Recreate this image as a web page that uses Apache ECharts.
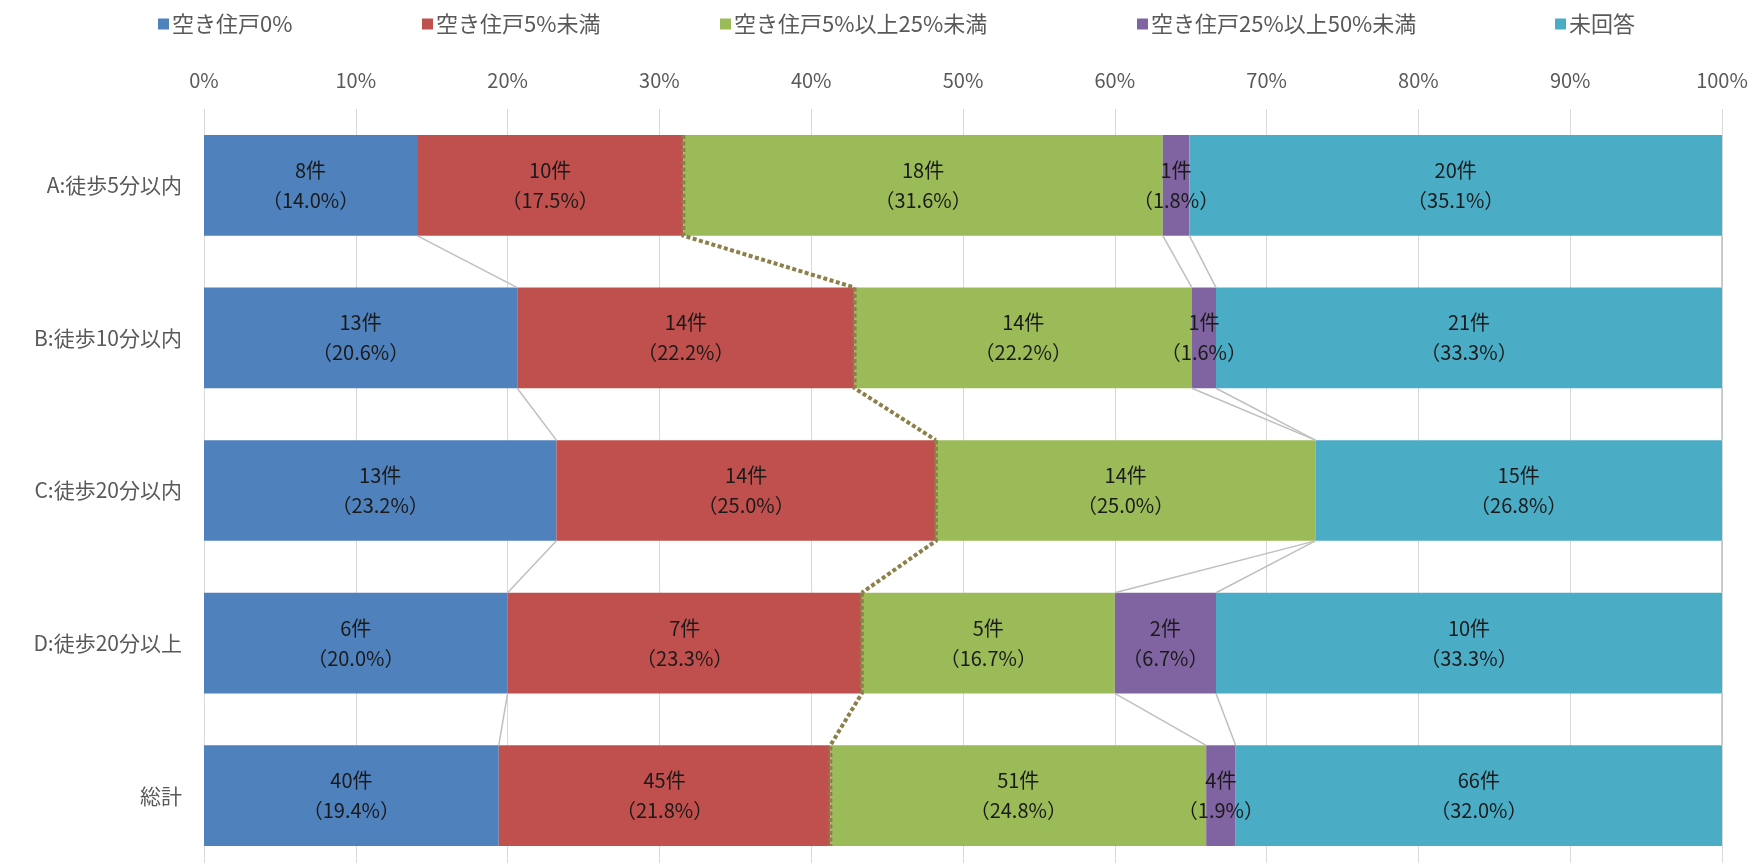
<!DOCTYPE html>
<html>
<head>
<meta charset="utf-8">
<script src="https://cdn.jsdelivr.net/npm/echarts@6/dist/echarts.min.js"></script>
<style>
  html, body { margin: 0; padding: 0; background: #ffffff; }
  #chart { width: 1753px; height: 863px; }
</style>
</head>
<body>
<div id="chart"></div>
<script>
// ---- data ----
const categories = ['A:徒歩5分以内', 'B:徒歩10分以内', 'C:徒歩20分以内', 'D:徒歩20分以上', '総計'];
const seriesNames = ['空き住戸0%', '空き住戸5%未満', '空き住戸5%以上25%未満', '空き住戸25%以上50%未満', '未回答'];

const counts0  = [8, 13, 13, 6, 40];
const counts5  = [10, 14, 14, 7, 45];
const counts25 = [18, 14, 14, 5, 51];
const counts50 = [1, 1, 0, 2, 4];
const countsNA = [20, 21, 15, 10, 66];

const pct0  = [14.0, 20.6, 23.2, 20.0, 19.4];
const pct5  = [17.5, 22.2, 25.0, 23.3, 21.8];
const pct25 = [31.6, 22.2, 25.0, 16.7, 24.8];
const pct50 = [1.8, 1.6, 0.0, 6.7, 1.9];
const pctNA = [35.1, 33.3, 26.8, 33.3, 32.0];

const xMin = 0, xMax = 100, xInterval = 10;

// ---- styles ----
const colors = ['#4F81BD', '#C0504D', '#9BBB59', '#8064A2', '#4BACC6'];
const FONT = '"Noto Sans CJK JP", "Noto Sans", sans-serif';
const BAR_RATIO = 0.66;

const countSets = [counts0, counts5, counts25, counts50, countsNA];
const pctSets = [pct0, pct5, pct25, pct50, pctNA];
const totals = categories.map((_, i) => countSets.reduce((s, arr) => s + arr[i], 0));
const shares = countSets.map(arr => arr.map((v, i) => v / totals[i] * 100));
// cumulative end of each segment
const cum = shares.map((_, k) => categories.map((_, i) => {
  let s = 0; for (let j = 0; j <= k; j++) s += shares[j][i]; return s;
}));

const barSeries = seriesNames.map((name, k) => ({
  name: name,
  type: 'bar',
  stack: 'total',
  barWidth: (BAR_RATIO * 100) + '%',
  itemStyle: { color: colors[k] },
  z: 2,
  label: {
    show: true,
    position: 'inside',
    fontFamily: FONT,
    fontSize: 20,
    lineHeight: 30,
    color: '#1a1a1a',
    formatter: function (p) {
      const c = countSets[k][p.dataIndex];
      if (!c) return '';
      return c + '件\n（' + pctSets[k][p.dataIndex].toFixed(1) + '%）';
    }
  },
  data: shares[k]
}));

const linkData = [];
for (let i = 0; i < categories.length - 1; i++) linkData.push([0, i]);

const linkSeries = {
  type: 'custom',
  name: 'serieslines',
  coordinateSystem: 'cartesian2d',
  z: 5,
  silent: true,
  encode: { x: 0, y: 1 },
  data: linkData,
  renderItem: function (params, api) {
    const i = params.dataIndex;
    const band = api.size([0, 1])[1];
    const half = band * BAR_RATIO / 2;
    const children = [];
    for (let k = 0; k < cum.length; k++) {
      if (k === 1) continue;
      const p1 = api.coord([cum[k][i], i]);
      const p2 = api.coord([cum[k][i + 1], i + 1]);
      children.push({
        type: 'line',
        shape: { x1: p1[0], y1: p1[1] + half, x2: p2[0], y2: p2[1] - half },
        style: { stroke: '#BFBFBF', lineWidth: 1.5 }
      });
    }
    // dashed olive boundary between red and green
    const a = api.coord([cum[1][i], i]);
    const b = api.coord([cum[1][i + 1], i + 1]);
    const pts = [[a[0], a[1] - half], [a[0], a[1] + half], [b[0], b[1] - half]];
    if (i === categories.length - 2) pts.push([b[0], b[1] + half]);
    children.push({
      type: 'polyline',
      shape: { points: pts },
      style: { stroke: '#8C7F4A', lineWidth: 4, lineDash: [4, 2.5], fill: null }
    });
    return { type: 'group', children: children };
  }
};

const legendX = [158, 422, 720, 1137, 1555];
const legends = seriesNames.map((name, k) => ({
  data: [name],
  left: legendX[k],
  top: 13,
  padding: 0,
  icon: 'rect',
  itemWidth: 11,
  itemHeight: 11,
  itemGap: 6,
  textStyle: { fontFamily: FONT, fontSize: 22, color: '#595959', padding: [0, 0, 0, -2] }
}));

const chart = echarts.init(document.getElementById('chart'), null, { renderer: 'canvas' });
chart.setOption({
  animation: false,
  backgroundColor: '#ffffff',
  legend: legends,
  grid: { left: 204, width: 1518, top: 109, height: 763, containLabel: false, outerBoundsMode: 'none' },
  xAxis: {
    type: 'value',
    position: 'top',
    min: xMin, max: xMax, interval: xInterval,
    axisLine: { show: false },
    axisTick: { show: false },
    splitLine: { show: true, lineStyle: { color: '#D9D9D9', width: 1 } },
    axisLabel: {
      formatter: '{value}%',
      fontFamily: FONT, fontSize: 20, color: '#595959', margin: 19
    }
  },
  yAxis: {
    type: 'category',
    inverse: true,
    data: categories,
    axisLine: { show: false },
    axisTick: { show: false },
    axisLabel: { fontFamily: FONT, fontSize: 21, color: '#595959', margin: 22 }
  },
  series: barSeries.concat([linkSeries])
});
</script>
</body>
</html>
